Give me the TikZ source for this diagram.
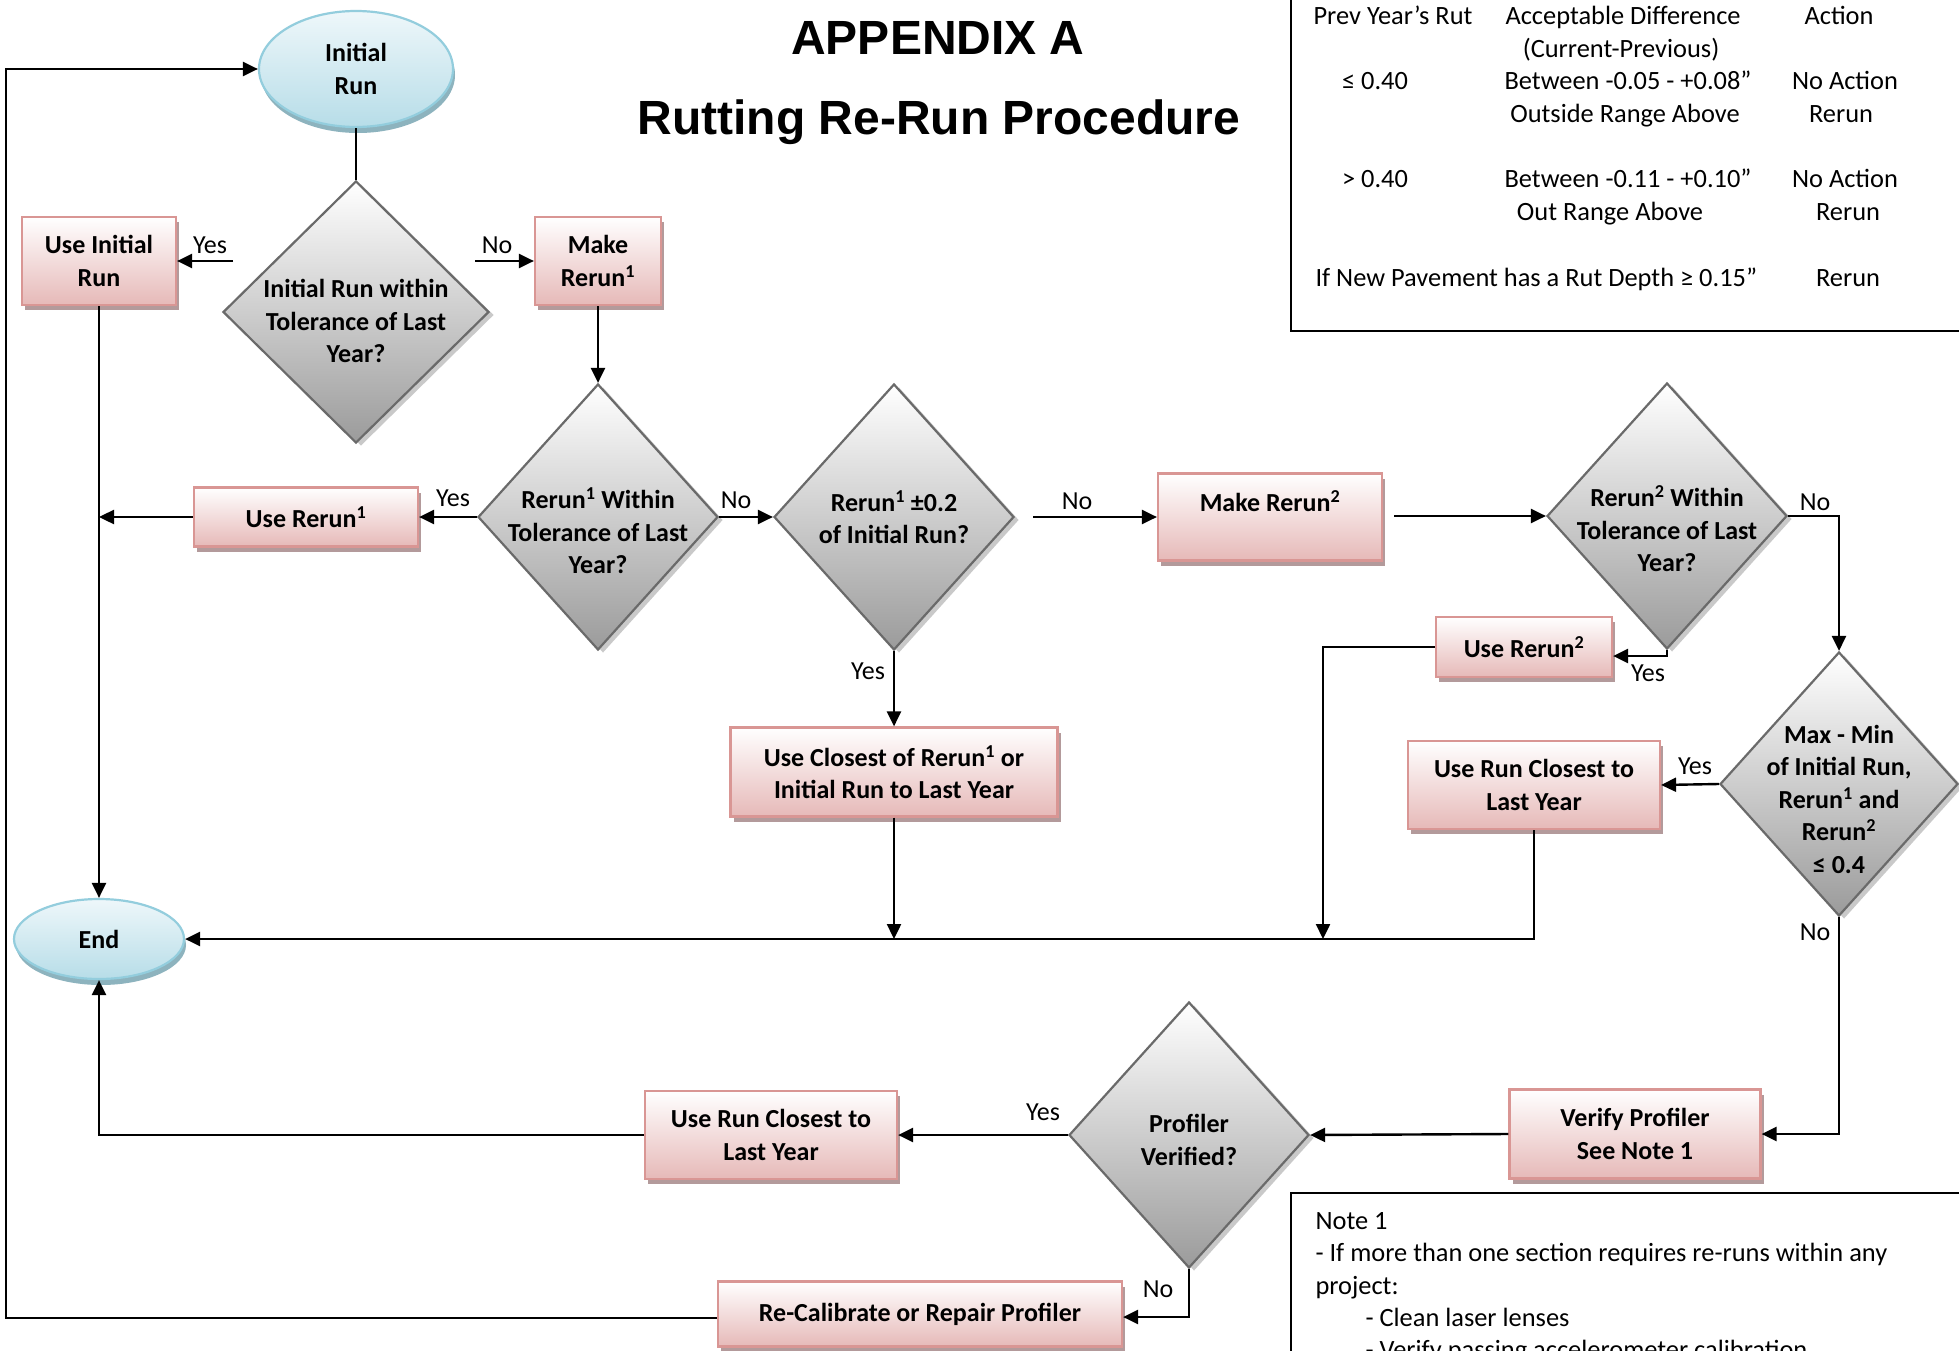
\documentclass[tikz,border=0pt]{standalone}
\usepackage{fontspec}
\setmainfont{Carlito}
\newfontfamily\titlefont{Liberation Sans}
\usetikzlibrary{arrows.meta,shapes.geometric,shadows,calc}
\definecolor{boxborder}{HTML}{D99694}
\definecolor{boxbot}{HTML}{E6B9B8}
\definecolor{boxshadow}{HTML}{B39A9B}
\definecolor{diaborder}{HTML}{6A6A6A}
\definecolor{diabot}{HTML}{9B9B9B}
\definecolor{diashadow}{HTML}{C9C9C9}
\definecolor{ellborder}{HTML}{93CDDD}
\definecolor{elltop}{HTML}{EEF7FA}
\definecolor{ellbot}{HTML}{B7DDE8}
\definecolor{ellshadow}{HTML}{8DB3BE}
\begin{document}
\begin{tikzpicture}[x=1pt,y=-1pt,
  every node/.style={font=\fontsize{26}{32.5}\selectfont},
  pbox/.style={draw=boxborder, line width=2.2pt, top color=white, bottom color=boxbot,
    inner sep=0pt, align=center, font=\fontsize{26}{32.5}\selectfont\bfseries,
    drop shadow={shadow xshift=3pt, shadow yshift=-5pt, fill=boxshadow, opacity=1}},
  dia/.style={diamond, draw=diaborder, line width=2.2pt, top color=white, bottom color=diabot,
    inner sep=0pt, minimum width=240pt, minimum height=266pt,
    drop shadow={shadow xshift=5pt, shadow yshift=-3pt, fill=diashadow, opacity=1}},
  ell/.style={ellipse, draw=ellborder, line width=2.2pt, top color=elltop, bottom color=ellbot,
    inner sep=0pt, align=center, font=\fontsize{26}{32.5}\selectfont\bfseries,
    drop shadow={shadow xshift=2pt, shadow yshift=-6pt, fill=ellshadow, opacity=1}},
  dtxt/.style={align=center, font=\fontsize{26}{32.5}\selectfont\bfseries},
  lbl/.style={font=\fontsize{26}{32.5}\selectfont},
  ttxt/.style={font=\fontsize{26.4}{32.5}\selectfont, anchor=base},
  ln/.style={line width=2.4pt},
  arr/.style={line width=2.4pt, -{Triangle[length=15pt,width=14pt]}}]
\useasboundingbox (0,0) rectangle (1959,1351);
\fill[white] (0,0) rectangle (1959,1351);

% title
\node[font=\titlefont\bfseries\fontsize{48}{56}\selectfont, anchor=base] (t1) at (938,55) {APPENDIX A};
\node[font=\titlefont\bfseries\fontsize{48}{56}\selectfont, anchor=base] (t2) at (939,135) {Rutting Re-Run Procedure};

% table box
\draw[line width=2pt] (1970,-5) -- (1291,-5) -- (1291,331) -- (1970,331);
\node[ttxt] (r1a) at (1393,25) {Prev Year’s Rut};
\node[ttxt] (r1b) at (1623,25) {Acceptable Difference};
\node[ttxt] (r1c) at (1839,25) {Action};
\node[ttxt] (r2b) at (1621,58) {(Current-Previous)};
\node[ttxt] (r3a) at (1375,90) {≤ 0.40};
\node[ttxt] (r3b) at (1628,90) {Between -0.05 - +0.08”};
\node[ttxt] (r3c) at (1845,90) {No Action};
\node[ttxt] (r4b) at (1625,123) {Outside Range Above};
\node[ttxt] (r4c) at (1841,123) {Rerun};
\node[ttxt] (r5a) at (1375,188) {> 0.40};
\node[ttxt] (r5b) at (1628,188) {Between -0.11 - +0.10”};
\node[ttxt] (r5c) at (1845,188) {No Action};
\node[ttxt] (r6b) at (1610,221) {Out Range Above};
\node[ttxt] (r6c) at (1848,221) {Rerun};
\node[ttxt, anchor=base west] (r7a) at (1312,286) {If New Pavement has a Rut Depth ≥ 0.15”};
\node[ttxt] (r7c) at (1848,286) {Rerun};

% note box
\draw[line width=2pt] (1970,1193) -- (1291,1193) -- (1291,1400);
\node[ttxt, anchor=base west] (n1) at (1312,1229) {Note 1};
\node[ttxt, anchor=base west] (n2) at (1312,1261) {- If more than one section requires re-runs within any};
\node[ttxt, anchor=base west] (n3) at (1312,1294) {project:};
\node[ttxt, anchor=base west] (n4) at (1362,1326) {- Clean laser lenses};
\node[ttxt, anchor=base west] (n5) at (1362,1358) {- Verify passing accelerometer calibration};

% nodes
\node[ell, minimum width=194pt, minimum height=116pt] (init) at (356,69) {Initial\\Run};
\node[ell, minimum width=170pt, minimum height=80pt] (fin) at (99,939) {End};

\node[dia, minimum width=266pt, minimum height=262pt] (d1) at (356,312) {};
\node[dtxt] (d1t) at (356,321) {Initial Run within\\Tolerance of Last\\Year?};
\node[pbox, minimum width=154pt, minimum height=88pt] (useinit) at (99,261) {Use Initial\\Run};
\node[pbox, minimum width=126pt, minimum height=88pt] (mk1) at (598,261) {Make\\Rerun\textsuperscript{1}};

\node[dia] (d2) at (598,517) {};
\node[dtxt] (d2t) at (598,531) {Rerun\textsuperscript{1} Within\\Tolerance of Last\\Year?};
\node[pbox, minimum width=224pt, minimum height=59pt] (ur1) at (306,517) {Use Rerun\textsuperscript{1}};

\node[dia] (d3) at (894,517) {};
\node[dtxt] (d3t) at (894,517) {Rerun\textsuperscript{1} ±0.2\\of Initial Run?};
\node[pbox, minimum width=327pt, minimum height=89pt] (uc1) at (894,772) {Use Closest of Rerun\textsuperscript{1} or\\Initial Run to Last Year};

\node[pbox, minimum width=224pt, minimum height=87pt] (mk2) at (1270,517) {Make Rerun\textsuperscript{2}\\\mbox{}};

\node[dia] (d4) at (1667,516) {};
\node[dtxt] (d4t) at (1667,529) {Rerun\textsuperscript{2} Within\\Tolerance of Last\\Year?};
\node[pbox, minimum width=176pt, minimum height=60pt] (ur2) at (1524,647) {Use Rerun\textsuperscript{2}};

\node[dia, minimum width=238pt, minimum height=264pt] (d5) at (1839,784) {};
\node[dtxt] (d5t) at (1839,799) {Max - Min\\of Initial Run,\\Rerun\textsuperscript{1} and\\Rerun\textsuperscript{2}\\≤ 0.4};
\node[pbox, minimum width=252pt, minimum height=88pt] (uc2) at (1534,785) {Use Run Closest to\\Last Year};

\node[pbox, minimum width=251pt, minimum height=89pt] (vp) at (1635,1134) {Verify Profiler\\See Note 1};
\node[dia] (d6) at (1189,1135) {};
\node[dtxt] (d6t) at (1189,1140) {Profiler\\Verified?};
\node[pbox, minimum width=252pt, minimum height=88pt] (uc3) at (771,1135) {Use Run Closest to\\Last Year};
\node[pbox, minimum width=404pt, minimum height=65pt] (rc) at (920,1314) {Re-Calibrate or Repair Profiler};

% connectors
\draw[ln] (init.south) -- (d1.north);
\coordinate (y1) at (233,261);
\draw[arr] (y1) -- (useinit.east);
\node[lbl] (ly1) at (210,245) {Yes};
\coordinate (no1) at (475,261);
\draw[arr] (no1) -- (mk1.west);
\node[lbl] (ln1) at (497,245) {No};
\draw[arr] (mk1.south) -- (d2.north);

\draw[arr] (d2.west) -- (ur1.east);
\node[lbl] (ly2) at (453,498) {Yes};
\coordinate (v1) at (99,517);
\draw[arr] (ur1.west) -- (v1);
\draw[arr] (useinit.south) -- (fin.north);

\draw[arr] (d2.east) -- (d3.west);
\node[lbl] (ln2) at (736,500) {No};
\draw[arr] (d3.south) -- (uc1.north);
\node[lbl] (ly3) at (868,671) {Yes};
\coordinate (m1) at (894,939);
\draw[arr] (uc1.south) -- (m1);

\coordinate (no3) at (1033,517);
\draw[arr] (no3) -- (mk2.west);
\node[lbl] (ln3) at (1077,501) {No};
\coordinate (m2o) at (1394,516);
\draw[arr] (m2o) -- (d4.west);

\draw[arr] (d4.east) -| (d5.north);
\node[lbl] (ln4) at (1815,502) {No};
\draw[arr] (d4.south) |- ([yshift=-9pt]ur2.east);
\node[lbl] (ly4) at (1648,673) {Yes};
\coordinate (m3) at (1323,939);
\draw[arr] (ur2.west) -| (m3);

\draw[arr] (d5.west) -- (uc2.east);
\node[lbl] (ly5) at (1695,766) {Yes};
\draw[arr] (uc2.south) |- (fin.east);

\draw[arr] (d5.south) |- (vp.east);
\node[lbl] (ln5) at (1815,932) {No};
\draw[arr] (vp.west) -- (d6.east);
\draw[arr] (d6.west) -- (uc3.east);
\node[lbl] (ly6) at (1043,1112) {Yes};
\draw[arr] (uc3.west) -| (fin.south);
\draw[arr] (d6.south) |- ([yshift=-3pt]rc.east);
\node[lbl] (ln6) at (1158,1289) {No};
\coordinate (lp) at (6,69);
\draw[arr] ([yshift=-4pt]rc.west) -| (lp) -- (init.west);
\end{tikzpicture}
\end{document}
